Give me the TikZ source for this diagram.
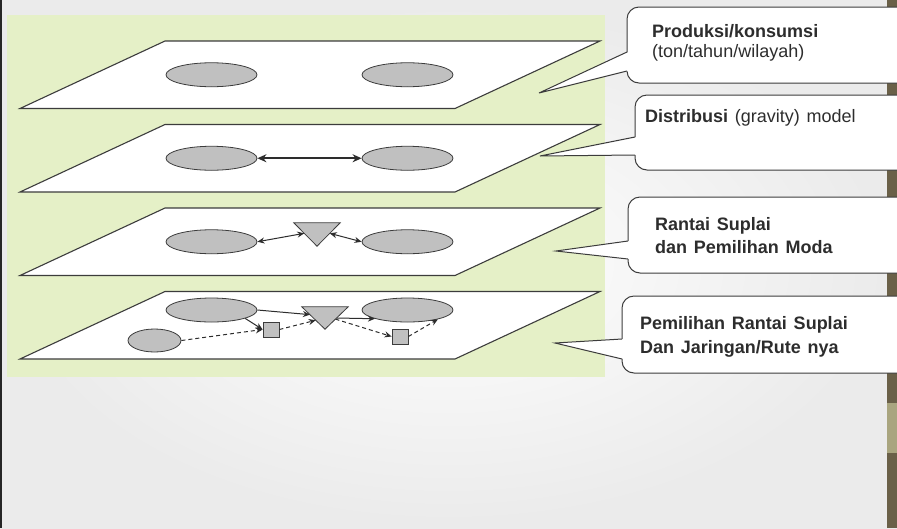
\documentclass[tikz,border=0pt]{standalone}
\usepackage{fontspec}
\setmainfont{Liberation Sans}[WordSpace=1.35]
\usetikzlibrary{shapes.geometric,arrows.meta,calc}
\definecolor{panelgreen}{RGB}{229,240,199}
\definecolor{zonegray}{RGB}{192,192,192}
\definecolor{edgegray}{RGB}{60,60,60}
\definecolor{inkgray}{RGB}{45,45,45}
\definecolor{barolive}{RGB}{106,96,72}
\definecolor{barlight}{RGB}{169,165,127}
\tikzset{
    layer-plane/.style = {draw=edgegray, fill=white, line width=1.1pt},
    zone/.style = {ellipse, draw=edgegray, fill=zonegray, line width=0.8pt, inner sep=0pt, minimum width=91pt, minimum height=24pt},
    small-zone/.style = {zone, minimum width=53pt, minimum height=23pt},
    depot/.style = {rectangle, draw=edgegray, fill=zonegray, line width=0.8pt, inner sep=0pt, minimum width=16pt, minimum height=15pt},
    hub-frame/.style = {inner sep=0pt, minimum width=46pt, minimum height=23pt},
    hub/.style = {draw=edgegray, fill=zonegray, line width=0.8pt},
    flow/.style = {draw=inkgray, line width=1pt, -{Stealth[length=7pt,width=6pt]}},
    two-way/.style = {draw=inkgray, line width=1pt, {Stealth[length=7pt,width=6pt]}-{Stealth[length=7pt,width=6pt]}},
    route/.style = {flow, dash pattern=on 4pt off 3pt},
    callout-box/.style = {draw=edgegray, fill=white, line width=1pt, rounded corners=12pt},
    callout-head/.style = {anchor=base west, inner sep=0pt, text=inkgray, font=\fontsize{18}{21}\selectfont\bfseries},
    callout-note/.style = {callout-head, font=\fontsize{18}{21}\selectfont},
}
\begin{document}
\begin{tikzpicture}[x=1pt,y=-1pt]
\useasboundingbox (0,0) rectangle (897,528);
\clip (0,0) rectangle (897,528);
\shade[inner color=white, outer color=black!8] (0,0) rectangle (897,528);
\fill[black!85] (0,0) rectangle (2,528);
\fill[barolive] (887,0) rectangle (897,528);
\fill[barlight] (887,403) rectangle (897,453);
\fill[panelgreen] (7,15) rectangle (605,377);

\foreach \t in {41,124.5,208,291.5}
    \draw[layer-plane] (20,{\t+67.5}) -- (165,\t) -- (600,\t) -- (455,{\t+67.5}) -- cycle;

% produksi / konsumsi
\node[zone] (prod-a) at (211.5,74.75) {};
\node[zone] (prod-b) at (407.5,74.75) {};

% distribusi
\node[zone] (dist-a) at (211.5,158.25) {};
\node[zone] (dist-b) at (407.5,158.25) {};
\draw[two-way, line width=2pt, {Stealth[length=9pt,width=8pt]}-{Stealth[length=9pt,width=8pt]}] (dist-a) -- (dist-b);

% rantai suplai
\node[zone] (mode-a) at (211.5,241.75) {};
\node[zone] (mode-b) at (407.5,241.75) {};
\node[hub-frame] (mode-hub) at (317,234.5) {};
\draw[hub] (mode-hub.north west) -- (mode-hub.north east) -- (mode-hub.south) -- cycle;
\draw[two-way] (mode-a.east) -- ($(mode-hub.north west)!0.45!(mode-hub.south)$);
\draw[two-way] ($(mode-hub.north east)!0.45!(mode-hub.south)$) -- (mode-b.west);

% jaringan / rute
\node[zone] (route-a) at (211.5,310) {};
\node[zone] (route-b) at (407.5,310) {};
\node[small-zone] (route-c) at (154.5,340.5) {};
\node[hub-frame, minimum height=22pt] (route-hub) at (325,318) {};
\node[depot] (depot-a) at (271,329.5) {};
\node[depot] (depot-b) at (400,336.5) {};
\draw[hub] (route-hub.north west) -- (route-hub.north east) -- (route-hub.south) -- cycle;
\draw[flow] (route-a.east) -- ($(route-hub.north west)!0.35!(route-hub.south)$);
\draw[flow] (route-a.346) -- (depot-a.west);
\draw[route] (route-c.east) -- (depot-a.west);
\draw[route] (depot-a.east) -- ($(route-hub.north west)!0.6!(route-hub.south)$);
\draw[flow] ($(route-hub.north east)!0.5!(route-hub.south)$) -- (route-b.195);
\draw[route] ($(route-hub.north east)!0.55!(route-hub.south)$) -- (depot-b.west);
\draw[route] (depot-b.east) -- (route-b.343);

% callouts
\foreach \l/\t/\b/\tx/\ty/\pa/\pb in {627/7/83/539/93/52/71, 635/95/170/540/156/137/155,
        628/197/273/556/251/241/259, 622/296/373/555/343/339/359} {
    \draw[callout-box] (\l,\t) rectangle (930,\b);
    \fill[white] (\tx,\ty) -- ({\l+1.5},\pa) -- ({\l+1.5},\pb) -- cycle;
    \draw[edgegray, line width=1pt] (\l,\pa) -- (\tx,\ty) -- (\l,\pb);
}
\node[callout-head] (prod-title) at (652,37) {Produksi/konsumsi};
\node[callout-note] (prod-unit) at (652,57) {(ton/tahun/wilayah)};
\node[callout-note] (dist-title) at (645,122) {\textbf{Distribusi} (gravity) model};
\node[callout-head] (mode-title) at (655,230) {Rantai Suplai};
\node[callout-head] (mode-sub) at (655,253) {dan Pemilihan Moda};
\node[callout-head] (route-title) at (640,329) {Pemilihan Rantai Suplai};
\node[callout-head] (route-sub) at (640,353) {Dan Jaringan/Rute nya};
\end{tikzpicture}
\end{document}
